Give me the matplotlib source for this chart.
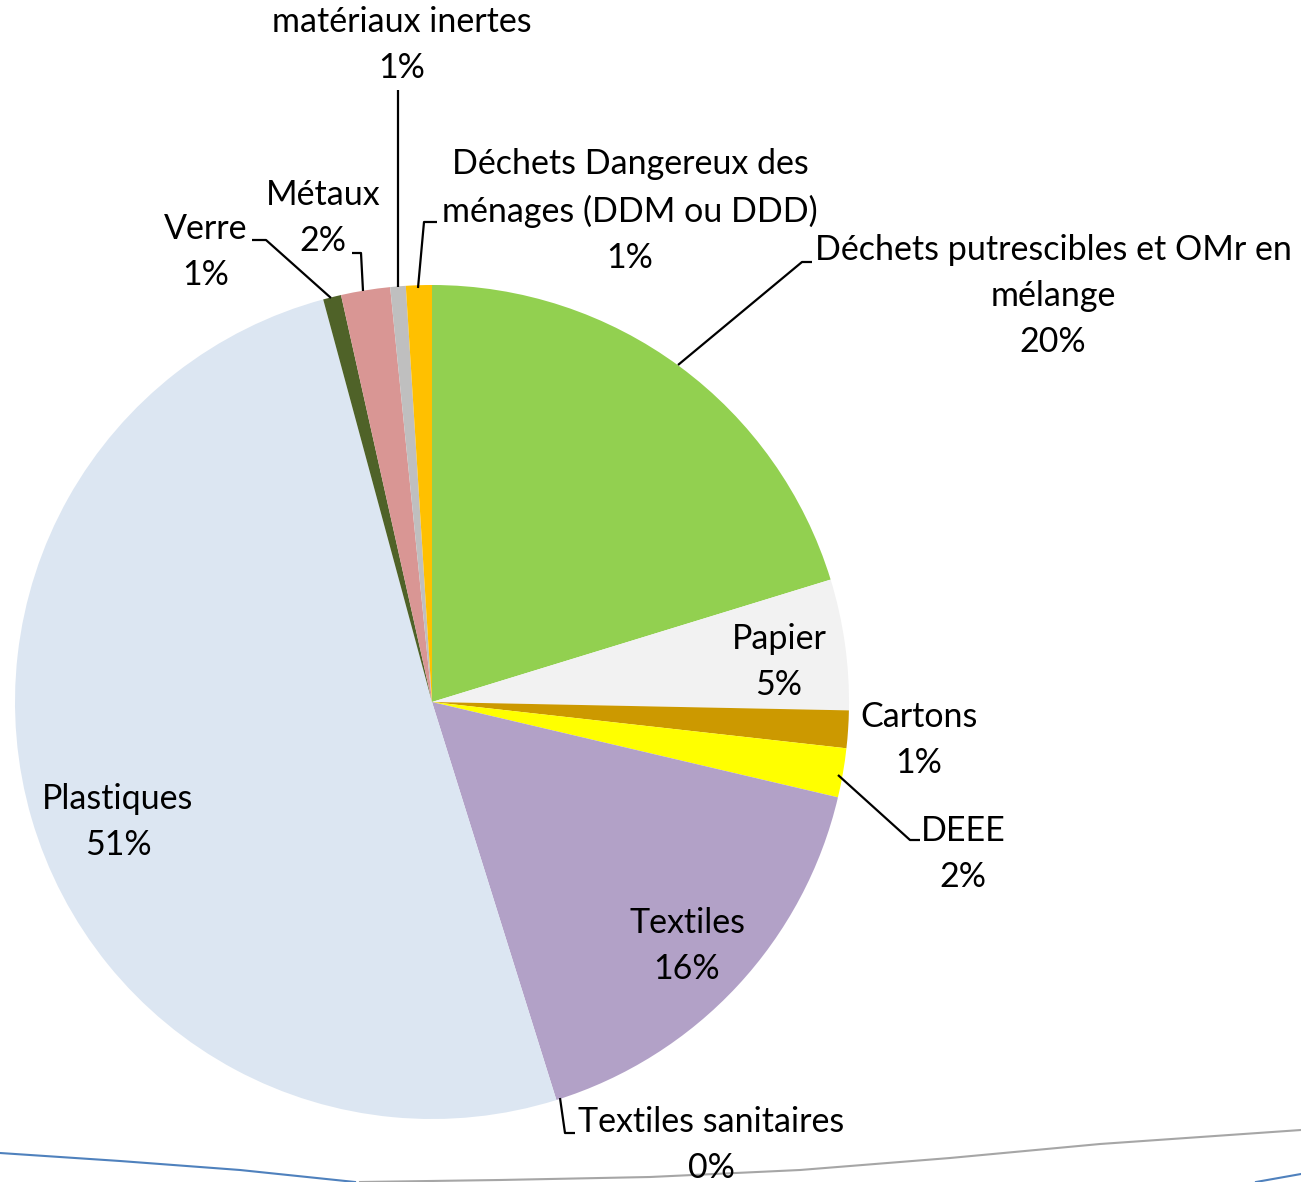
import matplotlib
matplotlib.use("Agg")
import matplotlib.pyplot as plt
import numpy as np

categories = ["Déchets putrescibles et OMr en\nmélange", "Papier", "Cartons", "DEEE",
              "Textiles", "Textiles sanitaires", "Plastiques", "Verre", "Métaux",
              "matériaux inertes", "Déchets Dangereux des\nménages (DDM ou DDD)"]
values = [20.25, 5.06, 1.45, 1.9, 16.5, 0.0, 50.6, 0.7, 1.9, 0.6, 1.0]
pct_labels = ["20%", "5%", "1%", "2%", "16%", "0%", "51%", "1%", "2%", "1%", "1%"]
colors = ["#92D050", "#F2F2F2", "#CC9900", "#FFFF00", "#B2A1C7", "#8064A2",
          "#DCE6F2", "#4F6228", "#D99694", "#BFBFBF", "#FFC000"]

W, H = 1301, 1182
fig = plt.figure(figsize=(W / 100, H / 100), dpi=100)
ax = fig.add_axes([0, 0, 1, 1])

cx, cy, R = 432, H - 702, 417
ax.pie(values, colors=colors, startangle=90, counterclock=False,
       center=(cx, cy), radius=R, frame=True,
       wedgeprops=dict(linewidth=0))
ax.set_xlim(0, W)
ax.set_ylim(0, H)
ax.set_aspect("equal")
ax.axis("off")

FONT = "Lato"
FS = 24.5
LS = 1.54

# label layout: (text center x, center y in image px, leader points in image px or None)
layout = [
    (1053, 296, [(678, 365), (802, 262), (812, 262)]),
    (779, 662, None),
    (919, 740, None),
    (963, 854, [(838, 775), (910, 840), (920, 840)]),
    (687, 946, None),
    (711, 1145, [(560, 1098), (565, 1133), (575, 1133)]),
    (118, 822, None),
    (206, 252, [(331, 298), (266, 240), (252, 240)]),
    (323, 218, [(363, 291), (361, 253), (352, 253)]),
    (402, 45, [(398, 287), (398, 90)]),
    (630, 211, [(418, 288), (424, 222), (437, 222)]),
]

for cat, pct, (tx, ty, leader) in zip(categories, pct_labels, layout):
    ax.text(tx, H - ty, f"{cat}\n{pct}", ha="center", va="center",
            fontsize=FS, family=FONT, linespacing=LS, color="black")
    if leader:
        xs = [p[0] for p in leader]
        ys = [H - p[1] for p in leader]
        ax.plot(xs, ys, color="black", lw=1.6, solid_capstyle="butt")

# decorative slide curves at the bottom
bpts = [(0, 1153), (120, 1161), (240, 1170), (355, 1182)]
ax.plot([p[0] for p in bpts], [H - p[1] for p in bpts], color="#4F81BD", lw=1.5)
gpts = [(360, 1182), (500, 1180), (650, 1177), (800, 1170), (950, 1158),
        (1100, 1144), (1301, 1130)]
ax.plot([p[0] for p in gpts], [H - p[1] for p in gpts], color="#A6A6A6", lw=1.5)
ax.plot([1256, 1301], [H - 1182, H - 1174], color="#4F81BD", lw=1.5)

fig.savefig("out.png", dpi=100)
